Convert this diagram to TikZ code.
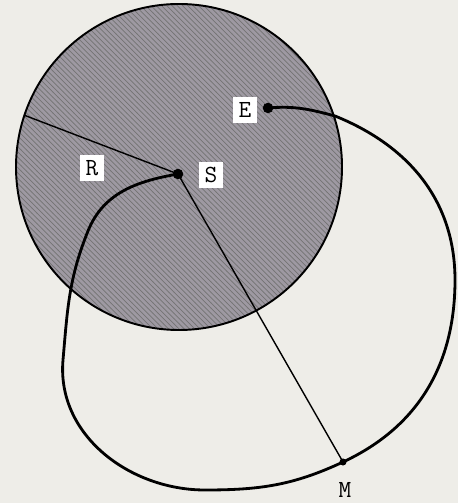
\documentclass[tikz,border=0pt]{standalone}
\usepackage{xcolor}
\usetikzlibrary{calc,positioning,patterns}
\definecolor{paper}{RGB}{238,237,232}
\definecolor{disc}{RGB}{158,153,162}

\begin{document}
\begin{tikzpicture}[x=0.02cm,y=0.02cm,
    lbl/.style={fill=white,inner sep=3pt,font=\ttfamily\fontsize{14}{16}\selectfont},
    orbit/.style={line width=1.6pt,line join=round},
    spoke/.style={line width=0.8pt},
    bigdot/.style={circle,fill=black,inner sep=0pt,minimum size=6pt},
    smalldot/.style={circle,fill=black,inner sep=0pt,minimum size=4pt}]
  \useasboundingbox[fill=paper] (0,0) rectangle (458,503);
  % shaded disc
  \coordinate (O) at (179,336);
  \fill[disc] (O) circle (163);
  \fill[pattern=north west lines,pattern color=black!55] (O) circle (163);
  \draw[line width=1.1pt] (O) circle (163);
  % points on the loop
  \node[bigdot] (S) at (178,329) {};
  \node[bigdot] (E) at (268,395) {};
  \node[smalldot] (M) at (343,41) {};
  \coordinate (A) at ($(O)+(161.5:163)$);
  \coordinate (c1) at (335,387);
  \coordinate (r) at (455,223);
  \coordinate (b) at (205,13);
  \coordinate (l) at (63,143);
  \coordinate (k) at (88,272);
  % thin line through S
  \draw[spoke] (A) -- (S.center) -- (M.center);
  % the loop
  \draw[orbit] (E.center) to[out=5,in=165] (c1) to[out=-22,in=90] (r)
    to[out=-90,in=25] (M.center) to[out=-155,in=0] (b)
    to[out=180,in=-95] (l) to[out=85,in=-112] (k) to[out=68,in=190] (S.center);
  % labels
  \node[lbl] (Elbl) at (245,393) {E};
  \node[lbl] (Rlbl) at (92,335) {R};
  \node[lbl] (Slbl) at (211,328) {S};
  \node[font=\ttfamily\fontsize{14}{16}\selectfont] (Mlbl) at (345,13) {M};
\end{tikzpicture}
\end{document}
